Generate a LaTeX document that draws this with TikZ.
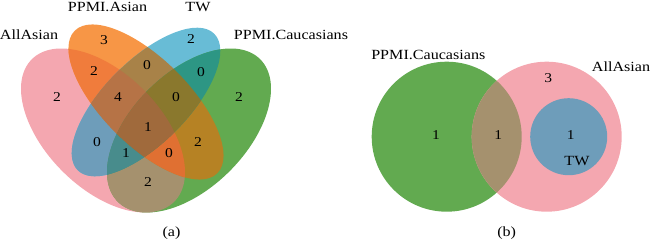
\documentclass[tikz,border=0pt]{standalone}
\usepackage{fontspec}
\setmainfont{Liberation Serif}[FakeStretch=1.15]
\definecolor{cA}{RGB}{244,167,176}
\definecolor{cB}{RGB}{247,150,70}
\definecolor{cC}{RGB}{104,188,214}
\definecolor{cD}{RGB}{98,170,80}
\definecolor{cAB}{RGB}{240,124,60}
\definecolor{cBC}{RGB}{168,130,72}
\definecolor{cCD}{RGB}{45,150,132}
\definecolor{cAC}{RGB}{110,157,186}
\definecolor{cBD}{RGB}{182,130,36}
\definecolor{cAD}{RGB}{165,145,110}
\definecolor{cABC}{RGB}{182,115,70}
\definecolor{cBCD}{RGB}{138,120,45}
\definecolor{cABD}{RGB}{224,112,50}
\definecolor{cACD}{RGB}{72,140,140}
\definecolor{cABCD}{RGB}{160,106,60}
\newcommand\shpA{[rotate around={-45:(103,110.5)}] (103,110.5) ellipse [x radius=100.7, y radius=57.5]}
\newcommand\clipA{\clip[rotate around={-45:(103,110.5)}] (103,110.5) ellipse [x radius=100.7, y radius=57.5];}
\newcommand\clipB{\clip[rotate around={-45:(146,139)}] (146,139) ellipse [x radius=100.8, y radius=43.1];}
\newcommand\clipC{\clip[rotate around={45:(146,139)}] (146,139) ellipse [x radius=96.5, y radius=41.5];}
\newcommand\clipD{\clip[rotate around={45:(189,110.5)}] (189,110.5) ellipse [x radius=100.7, y radius=57.5];}
\newcommand\paintA[1]{\fill[#1, rotate around={-45:(103,110.5)}] (103,110.5) ellipse [x radius=100.7, y radius=57.5];}
\newcommand\paintB[1]{\fill[#1, rotate around={-45:(146,139)}] (146,139) ellipse [x radius=100.8, y radius=43.1];}
\newcommand\paintC[1]{\fill[#1, rotate around={45:(146,139)}] (146,139) ellipse [x radius=96.5, y radius=41.5];}
\newcommand\paintD[1]{\fill[#1, rotate around={45:(189,110.5)}] (189,110.5) ellipse [x radius=100.7, y radius=57.5];}
\begin{document}
\begin{tikzpicture}[x=1pt,y=1pt,
  lbl/.style={inner sep=0pt, anchor=base, font=\fontsize{14}{16}\selectfont},
  num/.style={inner sep=0pt, anchor=center, font=\fontsize{13.5}{16}\selectfont}]
\useasboundingbox (0,0) rectangle (650,241);
% ---------- (a) ----------
\paintA{cA}\paintB{cB}\paintC{cC}\paintD{cD}
\begin{scope}\clipA\paintB{cAB}\end{scope}
\begin{scope}\clipA\paintC{cAC}\end{scope}
\begin{scope}\clipA\paintD{cAD}\end{scope}
\begin{scope}\clipB\paintC{cBC}\end{scope}
\begin{scope}\clipB\paintD{cBD}\end{scope}
\begin{scope}\clipC\paintD{cCD}\end{scope}
\begin{scope}\clipA\clipB\paintC{cABC}\end{scope}
\begin{scope}\clipA\clipB\paintD{cABD}\end{scope}
\begin{scope}\clipA\clipC\paintD{cACD}\end{scope}
\begin{scope}\clipB\clipC\paintD{cBCD}\end{scope}
\begin{scope}\clipA\clipB\clipC\paintD{cABCD}\end{scope}
\node[lbl] (la) at (29,201.7) {AllAsian};
\node[lbl] (lb) at (107.5,229.3) {PPMI.Asian};
\node[lbl] (lc) at (198,229.3) {TW};
\node[lbl] (ld) at (291,201.7) {PPMI.Caucasians};
\node[lbl] (capa) at (171.5,4.5) {(a)};
\node[num] (nA) at (57,144) {2};
\node[num] (nB) at (104,200.5) {3};
\node[num] (nC) at (191,201.5) {2};
\node[num] (nD) at (239,144) {2};
\node[num] (nAB) at (94,170) {2};
\node[num] (nBC) at (147,176) {0};
\node[num] (nCD) at (201,169) {0};
\node[num] (nABC) at (118,144) {4};
\node[num] (nBCD) at (176,144) {0};
\node[num] (nABCD) at (148,114) {1};
\node[num] (nAC) at (97,99) {0};
\node[num] (nBD) at (198,99) {2};
\node[num] (nACD) at (126,88) {1};
\node[num] (nABD) at (169,88) {0};
\node[num] (nAD) at (148,59) {2};
% ---------- (b) ----------
\fill[cD] (446.7,104.3) circle [radius=75];
\fill[cA] (546.7,104.3) circle [radius=75];
\begin{scope}
\clip (446.7,104.3) circle [radius=75];
\fill[cAD] (546.7,104.3) circle [radius=75];
\end{scope}
\fill[cAC] (568.7,104.3) circle [radius=38.5];
\node[lbl] (lbd) at (428.3,181.7) {PPMI.Caucasians};
\node[lbl] (lba) at (621,169.5) {AllAsian};
\node[lbl] (lbc) at (577,75) {TW};
\node[lbl] (capb) at (506.7,4.5) {(b)};
\node[num] (mA) at (548.3,163.3) {3};
\node[num] (mD) at (436,106) {1};
\node[num] (mAD) at (498.3,106) {1};
\node[num] (mC) at (570.7,106) {1};
\end{tikzpicture}
\end{document}
